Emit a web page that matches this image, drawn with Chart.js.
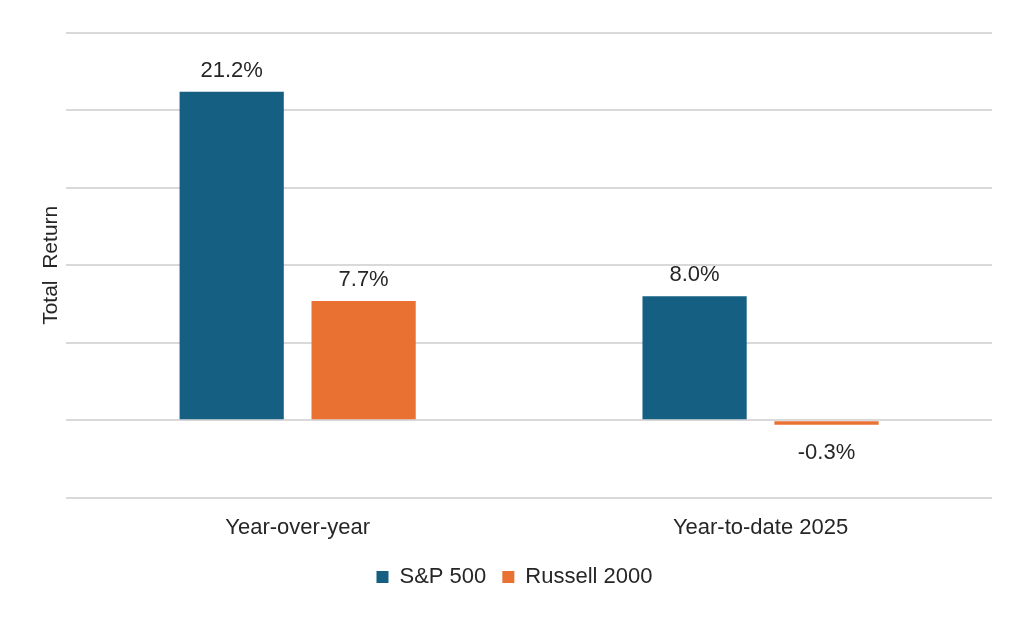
<!DOCTYPE html>
<html>
<head>
<meta charset="utf-8">
<script src="https://cdn.jsdelivr.net/npm/chart.js@4/dist/chart.umd.min.js"></script>
<style>
  html, body { margin: 0; padding: 0; background: #fff; }
  #wrap { width: 1024px; height: 618px; }
</style>
</head>
<body>
<div id="wrap"><canvas id="returnsChart"></canvas></div>
<script>
const categories = ['Year-over-year', 'Year-to-date 2025'];
const seriesNames = ['S&P 500', 'Russell 2000'];
const sp500 = [21.2, 8.0];
const russell2000 = [7.7, -0.3];
const seriesColors = ['#156082', '#E97132'];

// draws the % value above positive bars, below negative ones
const valueLabels = {
  id: 'valueLabels',
  afterDatasetsDraw(chart) {
    const { ctx } = chart;
    ctx.save();
    ctx.font = '22px "Liberation Sans", Arial, sans-serif';
    ctx.fillStyle = '#262626';
    ctx.textAlign = 'center';
    ctx.textBaseline = 'alphabetic';
    chart.data.datasets.forEach((ds, di) => {
      chart.getDatasetMeta(di).data.forEach((bar, i) => {
        const v = ds.data[i];
        const text = v.toFixed(1) + '%';
        if (v >= 0) {
          ctx.fillText(text, bar.x, bar.y - 15);
        } else {
          ctx.fillText(text, bar.x, bar.y + 34);
        }
      });
    });
    ctx.restore();
  }
};

Chart.defaults.font.family = '"Liberation Sans", Arial, sans-serif';
Chart.defaults.color = '#262626';

new Chart(document.getElementById('returnsChart'), {
  type: 'bar',
  data: {
    labels: categories,
    datasets: [
      { label: seriesNames[0], data: sp500, backgroundColor: seriesColors[0] },
      { label: seriesNames[1], data: russell2000, backgroundColor: seriesColors[1] }
    ]
  },
  options: {
    responsive: true,
    maintainAspectRatio: false,
    animation: false,
    datasets: {
      bar: { categoryPercentage: 0.57, barPercentage: 0.79 }
    },
    layout: { padding: { left: 37, right: 32, top: 33, bottom: 20 } },
    plugins: {
      legend: {
        position: 'bottom',
        labels: {
          boxWidth: 12,
          boxHeight: 12,
          padding: 16,
          font: { size: 22 }
        }
      },
      tooltip: { enabled: false }
    },
    scales: {
      x: {
        grid: { display: false },
        border: { display: false },
        ticks: { font: { size: 22 }, padding: 9 }
      },
      y: {
        min: -5,
        max: 25,
        ticks: { display: false, stepSize: 5 },
        border: { display: false },
        grid: { color: '#d9d9d9', lineWidth: 2, drawTicks: false },
        title: {
          display: true,
          text: 'Total  Return',
          font: { size: 21 },
          padding: { top: 2, bottom: 2 }
        }
      }
    }
  },
  plugins: [valueLabels]
});
</script>
</body>
</html>
